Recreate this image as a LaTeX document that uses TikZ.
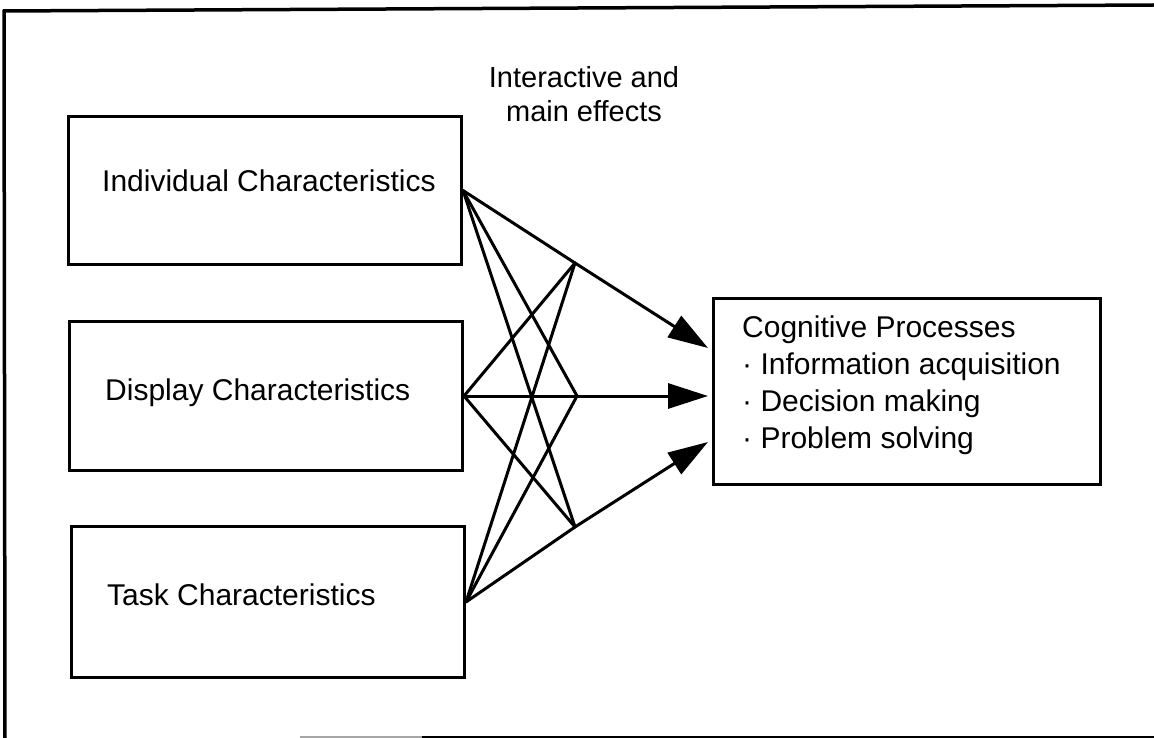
\documentclass[tikz,border=0pt]{standalone}
\usepackage{fontspec}
\setmainfont{Liberation Sans}
\usetikzlibrary{arrows.meta}
\begin{document}
\begin{tikzpicture}[x=1pt,y=-1pt,
  box/.style={draw, line width=3pt, inner sep=0pt, anchor=north west},
  lbl/.style={anchor=base west, inner sep=0pt, font=\fontsize{30}{36}\selectfont},
  link/.style={line width=3pt, line cap=round},
  effect/.style={line width=3pt, -{Triangle[length=40pt,width=25pt]}},
]
\useasboundingbox (0,0) rectangle (1154,738);

% outer frame (top, left and part of the bottom edge)
\draw[line width=3.5pt] (3,11) -- (1154,5);
\draw[line width=3.5pt] (4,10) -- (5,738);
\draw[line width=2pt, black!35] (300,737) -- (422,737);
\draw[line width=2pt] (422,737) -- (1154,737);

% characteristic boxes
\node[box, minimum width=393pt, minimum height=148pt] (ind)  at (67,115) {};
\node[box, minimum width=393pt, minimum height=149pt] (disp) at (68,320) {};
\node[box, minimum width=393pt, minimum height=151pt] (task) at (70,525) {};
\node[lbl] (indl)  at (102,192) {Individual Characteristics};
\node[lbl] (displ) at (105,400) {Display Characteristics};
\node[lbl] (taskl) at (107,605) {Task Characteristics};

% cognitive processes box (the base anchor of a multi-line node is its last line)
\node[box, minimum width=387pt, minimum height=186pt] (cog) at (712,297) {};
\node[anchor=base west, inner sep=0pt, align=left,
      font=\fontsize{30}{37}\selectfont] (cogl) at (742,448)
  {Cognitive Processes\\
   \textperiodcentered\ Information acquisition\\
   \textperiodcentered\ Decision making\\
   \textperiodcentered\ Problem solving};

% heading over the crossing lines
\node[anchor=base, inner sep=0pt, align=center,
      font=\fontsize{29}{34}\selectfont] (effl) at (584,122)
  {Interactive and\\main effects};

% convergence points and arrow targets
\coordinate (c1) at (575,263);
\coordinate (c2) at (577,396);
\coordinate (c3) at (575,527);
\coordinate (t1) at (708,348);
\coordinate (t2) at (708,396);
\coordinate (t3) at (708,442);

% every characteristic feeds every convergence point
\foreach \s in {ind,disp,task}{
  \foreach \c in {c1,c2,c3}{
    \draw[link] (\s.east) -- (\c);
  }
}

% effects on the cognitive processes
\draw[effect] (c1) -- (t1);
\draw[effect] (c2) -- (t2);
\draw[effect] (c3) -- (t3);
\end{tikzpicture}
\end{document}
